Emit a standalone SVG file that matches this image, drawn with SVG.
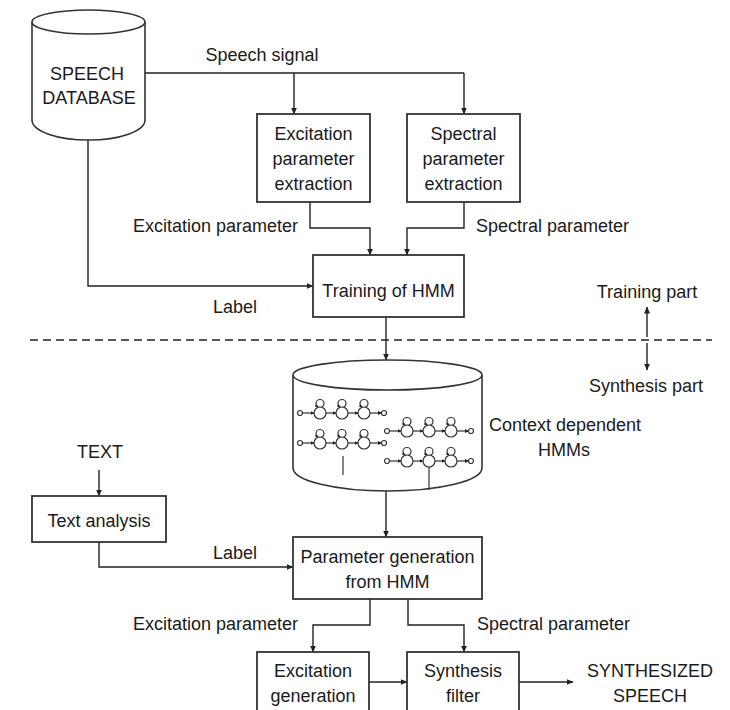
<svg xmlns="http://www.w3.org/2000/svg" xmlns:xlink="http://www.w3.org/1999/xlink" width="730" height="710" viewBox="0 0 730 710">
<style>
.t{font-family:"Liberation Sans",Arial,sans-serif;font-size:18px;fill:#1a1a1a;}
.m{text-anchor:middle;}
.box{fill:#fff;stroke:#333;stroke-width:1.8;}
.ln{fill:none;stroke:#222;stroke-width:1.4;}
.arr{fill:none;stroke:#222;stroke-width:1.4;marker-end:url(#ah);}
.cyl{fill:#fff;stroke:#333;stroke-width:1.6;}
.hm{fill:#fff;stroke:#333;stroke-width:1.2;}
.hl{fill:none;stroke:#333;stroke-width:1.2;}
</style>
<defs>
<marker id="ah" markerWidth="7" markerHeight="6" refX="6.5" refY="3" orient="auto" markerUnits="userSpaceOnUse">
<path d="M0,0 L7,3 L0,6 z" fill="#222"/>
</marker>
<marker id="sa" markerWidth="4" markerHeight="4" refX="3.5" refY="2" orient="auto" markerUnits="userSpaceOnUse">
<path d="M0,0 L4,2 L0,4 z" fill="#222"/>
</marker>
<g id="chain">
<line class="hl" x1="2.5" y1="0" x2="14" y2="0" marker-end="url(#sa)"/>
<line class="hl" x1="26" y1="0" x2="36" y2="0" marker-end="url(#sa)"/>
<line class="hl" x1="48" y1="0" x2="58" y2="0" marker-end="url(#sa)"/>
<line class="hl" x1="70" y1="0" x2="81.5" y2="0" marker-end="url(#sa)"/>
<circle class="hm" cx="0" cy="0" r="2.5"/>
<circle class="hm" cx="84" cy="0" r="2.5"/>
<circle class="hl" cx="20" cy="-9.5" r="4"/>
<circle class="hl" cx="42" cy="-9.5" r="4"/>
<circle class="hl" cx="64" cy="-9.5" r="4"/>
<circle class="hm" cx="20" cy="0" r="6"/>
<circle class="hm" cx="42" cy="0" r="6"/>
<circle class="hm" cx="64" cy="0" r="6"/>
<circle cx="16.5" cy="-7" r="1.2" fill="#222"/>
<circle cx="38.5" cy="-7" r="1.2" fill="#222"/>
<circle cx="60.5" cy="-7" r="1.2" fill="#222"/>
</g>
</defs>
<rect width="730" height="710" fill="#fff"/>

<g id="connectors">
<path class="ln" d="M145,73 H464"/>
<path class="arr" d="M294,73 V114"/>
<path class="arr" d="M464,73 V114"/>
<path class="arr" d="M310,202 V228 H370 V255"/>
<path class="arr" d="M464,202 V228 H407 V255"/>
<path class="arr" d="M88,140 V286 H313"/>
<path class="arr" d="M386,317 V360"/>
<line x1="30" y1="340" x2="712" y2="340" stroke="#222" stroke-width="1.3" stroke-dasharray="8,5"/>
<path class="arr" d="M647,337 V307"/>
<path class="arr" d="M647,343 V370"/>
<path class="arr" d="M386,491 V537"/>
<path class="arr" d="M99,470 V496"/>
<path class="arr" d="M99,542 V567 H293"/>
<path class="arr" d="M370,599 V625 H313 V652"/>
<path class="arr" d="M408,599 V625 H464 V652"/>
<path class="arr" d="M369,682 H407"/>
<path class="arr" d="M519,682 H573"/>
</g>

<g id="speech-database">
<path class="cyl" d="M32,22 V120 A56.5,20 0 0 0 145,120 V22"/>
<ellipse class="cyl" cx="88.5" cy="22" rx="56.5" ry="12"/>
<text class="t m" x="87" y="80">SPEECH</text>
<text class="t m" x="89" y="104">DATABASE</text>
</g>

<text class="t m" x="262" y="61">Speech signal</text>

<g id="excitation-extraction">
<rect class="box" x="257" y="114" width="113" height="88"/>
<text class="t m" x="313.5" y="140">Excitation</text>
<text class="t m" x="313.5" y="165">parameter</text>
<text class="t m" x="313.5" y="190">extraction</text>
</g>

<g id="spectral-extraction">
<rect class="box" x="407" y="114" width="113" height="88"/>
<text class="t m" x="463.5" y="140">Spectral</text>
<text class="t m" x="463.5" y="165">parameter</text>
<text class="t m" x="463.5" y="190">extraction</text>
</g>

<text class="t" x="298" y="232" text-anchor="end">Excitation parameter</text>
<text class="t" x="476" y="232">Spectral parameter</text>

<g id="training-hmm">
<rect class="box" x="313" y="255" width="151" height="62"/>
<text class="t m" x="388.5" y="297">Training of HMM</text>
</g>
<text class="t m" x="235" y="313">Label</text>

<text class="t m" x="647" y="298">Training part</text>
<text class="t m" x="646" y="392">Synthesis part</text>

<g id="context-hmms">
<path class="cyl" d="M293,375 V468 A94.5,23 0 0 0 482,468 V375"/>
<ellipse class="cyl" cx="387.5" cy="375" rx="94.5" ry="15"/>
<use xlink:href="#chain" x="300" y="413"/>
<use xlink:href="#chain" x="300" y="443"/>
<use xlink:href="#chain" x="387" y="431"/>
<use xlink:href="#chain" x="387" y="461"/>
<line class="hl" x1="343" y1="456" x2="343" y2="475" stroke-width="1.6"/>
<line class="hl" x1="429" y1="467" x2="429" y2="490"/>
</g>
<text class="t m" x="565" y="431">Context dependent</text>
<text class="t m" x="564" y="456">HMMs</text>

<text class="t m" x="100" y="458">TEXT</text>

<g id="text-analysis">
<rect class="box" x="32" y="496" width="134" height="46"/>
<text class="t m" x="99" y="527">Text analysis</text>
</g>
<text class="t m" x="235" y="559">Label</text>

<g id="parameter-generation">
<rect class="box" x="293" y="537" width="189" height="62"/>
<text class="t m" x="387.5" y="563">Parameter generation</text>
<text class="t m" x="387.5" y="588">from HMM</text>
</g>

<text class="t" x="298" y="630" text-anchor="end">Excitation parameter</text>
<text class="t" x="477" y="630">Spectral parameter</text>

<g id="excitation-generation">
<rect class="box" x="257" y="652" width="112" height="70"/>
<text class="t m" x="313" y="677">Excitation</text>
<text class="t m" x="313" y="702">generation</text>
</g>

<g id="synthesis-filter">
<rect class="box" x="407" y="652" width="112" height="70"/>
<text class="t m" x="463" y="677">Synthesis</text>
<text class="t m" x="463" y="702">filter</text>
</g>

<text class="t m" x="650" y="677">SYNTHESIZED</text>
<text class="t m" x="650" y="702">SPEECH</text>
</svg>
